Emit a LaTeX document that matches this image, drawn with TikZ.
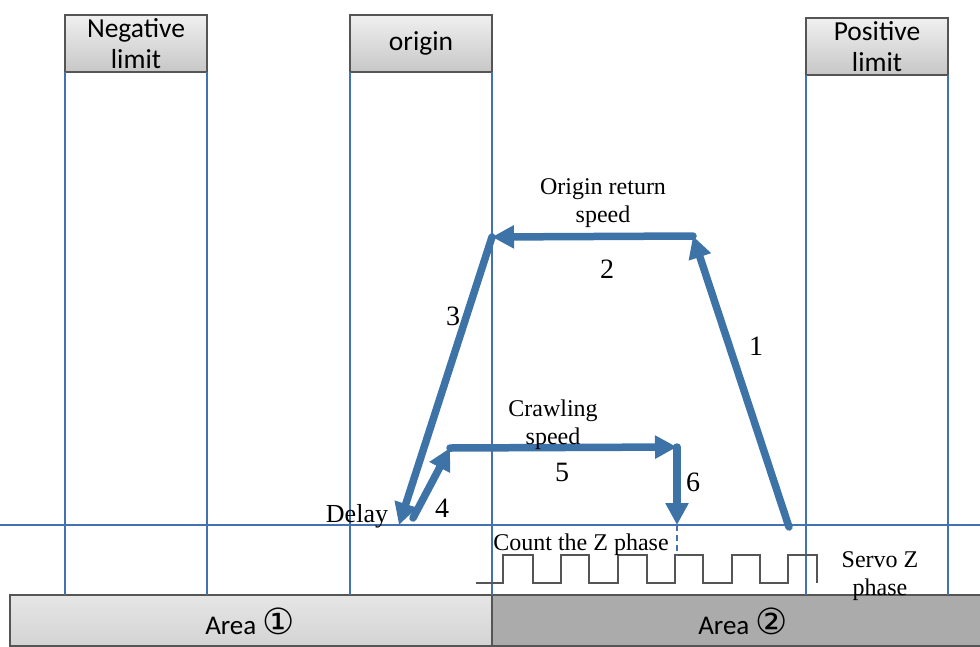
\documentclass[tikz,border=0pt]{standalone}
\usepackage{fontspec}
\setmainfont{Liberation Serif}
\newfontfamily\sansf{Carlito}
\newfontfamily\symf{DejaVu Sans}
\usetikzlibrary{arrows.meta}
\definecolor{lblue}{RGB}{68,114,176}
\definecolor{ablue}{RGB}{62,115,168}
\definecolor{dgray}{RGB}{85,85,85}
\begin{document}
\begin{tikzpicture}[x=1pt,y=-1pt,
  thinline/.style={lblue,line width=1.5pt},
  flow/.style={ablue,line width=7.5pt,line cap=round,-{Triangle[length=22pt,width=22pt]}},
  hbox/.style={draw=dgray,line width=1.3pt,top color=black!6,bottom color=black!22,
    minimum width=142pt,minimum height=57pt,inner sep=0pt,outer sep=0pt,anchor=north west,align=center,
    font=\sansf\fontsize{27.5}{31}\selectfont},
  areabox/.style={draw=dgray,line width=1.3pt,minimum height=51pt,inner sep=0pt,outer sep=0pt,anchor=north west},
  areatxt/.style={font=\sansf\fontsize{27}{30}\selectfont,inner sep=0pt,anchor=base},
  lab/.style={inner sep=0pt,align=center,font=\fontsize{24}{28}\selectfont},
  num/.style={inner sep=0pt,anchor=base,font=\fontsize{28}{28}\selectfont},
  wave/.style={dgray,line width=1.2pt}]
\useasboundingbox (0,0) rectangle (980,646);
% top boxes
\node[hbox] (neg) at (65,15) {Negative\\limit};
\node[hbox] (org) at (350,15) {origin};
\node[hbox] (pos) at (806,18) {Positive\\limit};
% area bars
\node[areabox,minimum width=482pt,top color=black!10,bottom color=black!17] (a1) at (10,595) {};
\node[areabox,minimum width=490pt,fill=black!33] (a2) at (492,595) {};
\node[areatxt] (a1t) at (250,634) {Area {\symf\fontsize{36}{30}\selectfont ①}};
\node[areatxt] (a2t) at (743,634) {Area {\symf\fontsize{36}{30}\selectfont ②}};
% vertical lines
\foreach \b in {neg.south west, neg.south east, org.south west, org.south east, pos.south west, pos.south east}
  \draw[thinline] (\b) -- (\b |- a1.north);
% horizontal line
\coordinate (hl0) at (0,525);
\coordinate (hl1) at (980,525);
\draw[thinline] (hl0) -- (hl1);
% servo Z wave
\draw[wave] (476,583) -- (503,583) -- (503,555) -- (533,555) -- (533,583)
  -- (561,583) -- (561,555) -- (589,555) -- (589,583)
  -- (618,583) -- (618,555) -- (647,555) -- (647,583)
  -- (675,583) -- (675,555) -- (703,555) -- (703,583)
  -- (732,583) -- (732,555) -- (760,555) -- (760,583)
  -- (788,583) -- (788,555) -- (817,555) -- (817,583);
% motion path
\coordinate (p1) at (789,527);
\coordinate (p2) at (693,236);
\coordinate (p3) at (492,237);
\coordinate (p4) at (399,525);
\coordinate (p5) at (413,518);
\coordinate (p6) at (450,448);
\coordinate (p7) at (677,447);
\coordinate (p8) at (677,525);
\coordinate (dz) at (677,556);
\draw[thinline,dash pattern=on 6pt off 4pt] (p8) -- (dz);
\draw[flow] (p1) -- (p2);
\draw[flow] (p2) -- (p3);
\draw[flow] (p3) -- (p4);
\draw[flow] (p5) -- (p6);
\draw[flow] (p6) -- (p7);
\draw[flow] (p7) -- (p8);
% labels
\node[lab] (ors) at (603,203) {Origin return\\speed};
\node[lab] (crs) at (553,425) {Crawling\\speed};
\node[lab] (srv) at (880,576) {Servo Z\\phase};
\node[lab,anchor=base] (czp) at (581,550) {Count the Z phase};
\node[lab,anchor=base,font=\fontsize{26}{28}\selectfont] (dly) at (357,522) {Delay};
\node[num] (n1) at (756,355) {1};
\node[num] (n2) at (607,278) {2};
\node[num] (n3) at (453,325) {3};
\node[num] (n4) at (442,517) {4};
\node[num] (n5) at (562,481) {5};
\node[num] (n6) at (693,491) {6};
\end{tikzpicture}
\end{document}
